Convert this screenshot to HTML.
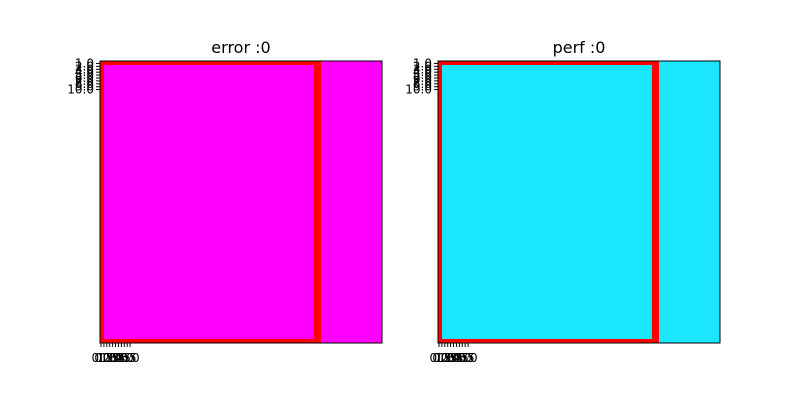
<!DOCTYPE html>
<html><head><meta charset="utf-8"><style>
body{margin:0;background:#fff;}
svg text{font-family:"DejaVu Sans","Liberation Sans",sans-serif;}
</style></head><body>
<svg id="c" width="800" height="400" xmlns="http://www.w3.org/2000/svg"></svg>
<script>
const panelTitles = ["error :0", "perf :0"];
const panelColors = ["#ff00ff", "#1ae6ff"];
const yTicks = [1,2,3,4,5,6,7,8,9,10];
const yTickLabels = ["1.0","2.0","3.0","4.0","5.0","6.0","7.0","8.0","9.0","10.0"];
const xTicks = [0,1,2,3,4,5,6,7,8,9,10];
const xTickLabels = ["0.0","0.5","1.0","1.5","2.0","2.5","3.0","3.5","4.0","4.5","5.0"];
const extent = 97;
const highlightWidth = 76;

const svgEl = document.getElementById('c');
const NS = "http://www.w3.org/2000/svg";
function mk(tag, attrs){const e=document.createElementNS(NS,tag);for(const k in attrs)e.setAttribute(k,attrs[k]);svgEl.appendChild(e);return e;}
const lefts=[100,438], axTop=61, size=282;
panelTitles.forEach((t,i)=>{
  const x0=lefts[i];
  const sx=v=>x0+v/extent*size, sy=v=>axTop+v/extent*size;
  const bg=mk('rect',{x:x0,y:axTop,width:size,height:size,fill:panelColors[i]});
  
  
  const hl=mk('rect',{x:x0+2,y:axTop+2,width:sx(highlightWidth)-x0-6,height:size-4,fill:'none',stroke:'#ff0000','stroke-width':4});
  
  
  const bar=mk('rect',{x:sx(highlightWidth)-7,y:axTop,width:7,height:size,fill:'#ff0000'});
  
  
  const fr=mk('rect',{x:x0,y:axTop,width:size,height:size,fill:'none',stroke:'#000','stroke-width':1});
  
  
  const tt=mk('text',{x:x0+size/2,y:axTop-8,'text-anchor':'middle','font-size':16});
  tt.textContent=t;
  
  
  yTicks.forEach((v,j)=>{
    const y=sy(v-0.5)+1;
    mk('line',{x1:x0-4,x2:x0,y1:y,y2:y,stroke:'#000'});
    const l=mk('text',{x:x0-6,y:y+4,'text-anchor':'end','font-size':12});
    l.textContent=yTickLabels[j];
    
    
  });
  xTicks.forEach((v,j)=>{
    const x=sx(v)+1;
    mk('line',{x1:x,x2:x,y1:axTop+size,y2:axTop+size+4,stroke:'#000'});
    const l=mk('text',{x:x,y:axTop+size+19,'text-anchor':'middle','font-size':12});
    l.textContent=xTickLabels[j];
    
    
  });
});
</script>
</body></html>
